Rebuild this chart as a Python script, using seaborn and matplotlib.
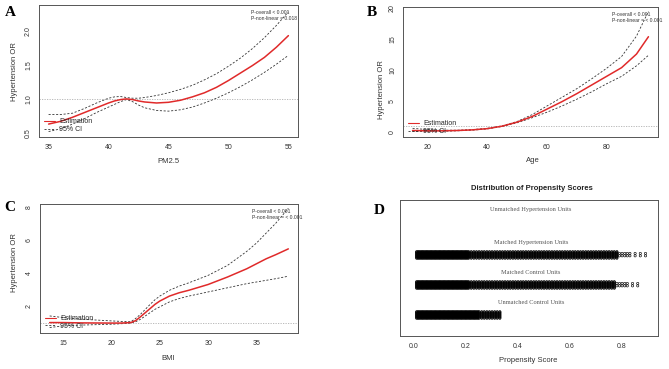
import numpy as np
import pandas as pd
import matplotlib
matplotlib.use("Agg")
import matplotlib.pyplot as plt
from matplotlib.lines import Line2D
import seaborn as sns

# ---------------- data ----------------
# Panel A: PM2.5
pm_x = [35, 36, 37, 38, 39, 40, 40.5, 41, 41.5, 42, 42.5, 43, 44, 45, 46, 47, 48, 49, 50, 51, 52, 53, 54, 55]
pm_est = [0.63, 0.67, 0.73, 0.80, 0.87, 0.94, 0.97, 0.99, 1.00, 0.99, 0.97, 0.955, 0.94, 0.95, 0.98, 1.03, 1.09, 1.17, 1.27, 1.38, 1.49, 1.61, 1.76, 1.93]
pm_upper = [0.77, 0.77, 0.79, 0.86, 0.94, 1.01, 1.03, 1.035, 1.02, 1.01, 1.01, 1.02, 1.05, 1.09, 1.14, 1.20, 1.28, 1.37, 1.48, 1.60, 1.74, 1.90, 2.08, 2.28]
pm_lower = [0.52, 0.56, 0.63, 0.71, 0.80, 0.88, 0.92, 0.96, 0.99, 0.96, 0.91, 0.87, 0.83, 0.82, 0.84, 0.88, 0.94, 1.01, 1.09, 1.18, 1.28, 1.39, 1.51, 1.64]

# Panel B: Age
age_x = [15, 20, 25, 30, 35, 40, 45, 50, 55, 60, 65, 70, 75, 80, 85, 90, 94]
age_est = [0.25, 0.2, 0.2, 0.25, 0.35, 0.55, 0.95, 1.6, 2.5, 3.7, 4.9, 6.2, 7.6, 9.0, 10.4, 12.6, 15.4]
age_upper = [0.6, 0.4, 0.3, 0.3, 0.4, 0.6, 1.0, 1.7, 2.8, 4.2, 5.6, 7.0, 8.6, 10.3, 12.2, 15.5, 19.5]
age_lower = [0.1, 0.1, 0.12, 0.2, 0.3, 0.5, 0.9, 1.5, 2.3, 3.2, 4.2, 5.3, 6.5, 7.8, 9.0, 10.7, 12.4]

# Panel C: BMI
bmi_x = [13.6, 15, 17, 20, 21, 22, 22.5, 23, 23.5, 24, 24.5, 25, 26, 27, 28, 30, 32, 34, 35, 36, 37, 38.3]
bmi_est = [1.0, 1.0, 0.98, 0.97, 0.97, 1.0, 1.12, 1.35, 1.6, 1.85, 2.1, 2.3, 2.6, 2.8, 2.95, 3.3, 3.75, 4.25, 4.55, 4.85, 5.1, 5.45]
bmi_upper = [1.4, 1.3, 1.2, 1.1, 1.07, 1.05, 1.25, 1.5, 1.8, 2.1, 2.38, 2.6, 2.95, 3.2, 3.4, 3.85, 4.45, 5.3, 5.8, 6.4, 7.0, 7.9]
bmi_lower = [0.7, 0.8, 0.85, 0.9, 0.93, 0.97, 1.05, 1.2, 1.4, 1.6, 1.8, 1.95, 2.25, 2.45, 2.6, 2.85, 3.1, 3.35, 3.45, 3.55, 3.65, 3.8]

# Panel D: propensity score bins (observed, rounded to 0.01)
ps_bins = [0.01, 0.02, 0.03, 0.04, 0.05, 0.06, 0.07, 0.08, 0.09, 0.10,
           0.11, 0.12, 0.13, 0.14, 0.15, 0.16, 0.17, 0.18, 0.19, 0.20,
           0.21, 0.22, 0.23, 0.24, 0.25, 0.26, 0.27, 0.28, 0.29, 0.30,
           0.31, 0.32, 0.33, 0.34, 0.35, 0.36, 0.37, 0.38, 0.39, 0.40,
           0.41, 0.42, 0.43, 0.44, 0.45, 0.46, 0.47, 0.48, 0.49, 0.50,
           0.51, 0.52, 0.53, 0.54, 0.55, 0.56, 0.57, 0.58, 0.59, 0.60,
           0.61, 0.62, 0.63, 0.64, 0.65, 0.66, 0.67, 0.68, 0.69, 0.70,
           0.71, 0.72, 0.73, 0.74, 0.75, 0.76, 0.77, 0.78, 0.79]
# low scores that fall between the bins (the solid-black left part)
ps_between = [0.015, 0.025, 0.035, 0.045, 0.055, 0.065, 0.075, 0.085, 0.095, 0.105,
              0.115, 0.125, 0.135, 0.145, 0.155, 0.165, 0.175, 0.185, 0.195, 0.205,
              0.215, 0.225, 0.235, 0.245]
matched_treated_dense = ps_bins[:78] + ps_between[:20]
matched_treated_tail = [0.79, 0.80, 0.81, 0.82, 0.83, 0.85, 0.87, 0.89]
matched_control_dense = ps_bins[:77] + ps_between[:20]
matched_control_tail = [0.78, 0.79, 0.80, 0.81, 0.82, 0.84, 0.86]
unmatched_control_dense = ps_bins[:33] + ps_between
group_labels = ["Unmatched Hypertension Units", "Matched Hypertension Units",
                "Matched Control Units", "Unmatched Control Units"]
group_pos = [4, 3, 2, 1]

# ---------------- figure ----------------
W, H = 669, 369
fig = plt.figure(figsize=(W / 100, H / 100), dpi=100)
sns.set_style("white")
plt.rcParams["font.family"] = ["Liberation Sans", "DejaVu Sans"]

def rect(l, r, t, b):
    return [l / W, 1 - b / H, (r - l) / W, (b - t) / H]

RED = "#e02a2a"
TXT = "#333333"

def style_ax(ax):
    for s in ax.spines.values():
        s.set_visible(True)
        s.set_color("#555555")
        s.set_linewidth(0.7)
    ax.tick_params(axis="both", which="both", direction="out", length=3,
                   width=0.6, color="#555555", labelsize=5, labelcolor=TXT, pad=2)
    for lab in ax.get_yticklabels():
        lab.set_rotation(90)
        lab.set_va("center")
    ax.set_xlabel("")
    ax.set_ylabel("")

def curve_panel(box, x, est, lo, hi, xlim, ylim, xticks, yticks, yticklabels, legend_anchor, ptxt):
    ax = fig.add_axes(rect(*box))
    df = pd.DataFrame({"x": x, "est": est, "lo": lo, "hi": hi})
    ax.axhline(1.0, color="#b0b0b0", lw=0.6, ls=(0, (1.5, 1.5)), zorder=1)
    sns.lineplot(data=df, x="x", y="hi", ax=ax, color="#333333", lw=0.6,
                 linestyle=(0, (2.5, 2)), estimator=None, sort=True)
    sns.lineplot(data=df, x="x", y="lo", ax=ax, color="#333333", lw=0.6,
                 linestyle=(0, (2.5, 2)), estimator=None, sort=True)
    sns.lineplot(data=df, x="x", y="est", ax=ax, color=RED, lw=1.1,
                 estimator=None, sort=True)
    ax.set_xlim(*xlim)
    ax.set_ylim(*ylim)
    ax.set_xticks(xticks)
    ax.set_yticks(yticks)
    ax.set_yticklabels(yticklabels)
    style_ax(ax)
    handles = [Line2D([], [], color=RED, lw=0.8),
               Line2D([], [], color="#333333", lw=0.6, ls=(0, (2.5, 2)))]
    ax.legend(handles, ["Estimation", "95% CI"], loc="lower left",
              bbox_to_anchor=legend_anchor, frameon=False, fontsize=5,
              handlelength=1.6, handletextpad=0.6, labelspacing=0.1,
              borderpad=0, borderaxespad=0)
    ax.text(0.82, 0.96, ptxt, transform=ax.transAxes, fontsize=3.6,
            color=TXT, va="top", ha="left", linespacing=1.2)
    return ax

def ftext(px, py, s, **kw):
    fig.text(px / W, 1 - py / H, s, **kw)

# Panel A
curve_panel((39, 298, 5, 137), pm_x, pm_est, pm_lower, pm_upper,
            (34.2, 55.8), (0.44, 2.38), [35, 40, 45, 50, 55],
            [0.5, 1.0, 1.5, 2.0], ["0.5", "1.0", "1.5", "2.0"], (0.02, 0.03),
            "P-overall < 0.001\nP-non-linear = 0.018")
ftext(15, 72, "Hypertension OR", rotation=90, fontsize=5.5, color=TXT, ha="center", va="center")
ftext(168, 162, "PM2.5", fontsize=5.5, color=TXT, ha="center", va="center")

# Panel B
curve_panel((403, 658, 7, 137), age_x, age_est, age_lower, age_upper,
            (11.8, 97.2), (-0.8, 20.2), [20, 40, 60, 80],
            [0, 5, 10, 15, 20], ["0", "5", "10", "15", "20"], (0.02, 0.015),
            "P-overall < 0.001\nP-non-linear = < 0.001")
ftext(382, 90, "Hypertension OR", rotation=90, fontsize=5.5, color=TXT, ha="center", va="center")
ftext(533, 160, "Age", fontsize=5.5, color=TXT, ha="center", va="center")

# Panel C
curve_panel((40, 298, 204, 333), bmi_x, bmi_est, bmi_lower, bmi_upper,
            (12.6, 39.3), (0.37, 8.16), [15, 20, 25, 30, 35],
            [2, 4, 6, 8], ["2", "4", "6", "8"], (0.02, 0.025),
            "P-overall < 0.001\nP-non-linear = < 0.001")
ftext(15, 263, "Hypertension OR", rotation=90, fontsize=5.5, color=TXT, ha="center", va="center")
ftext(168, 358, "BMI", fontsize=5.5, color=TXT, ha="center", va="center")

# Panel D
axd = fig.add_axes(rect(400, 658, 200, 336))
JIT = [-0.11, -0.085, -0.06, -0.035, -0.01, 0.015, 0.04, 0.065, 0.09, 0.11]
TAIL_JIT = [-0.03, 0.05]
rows = []
for scores, pos, jit in [(matched_treated_dense, 3, JIT), (matched_treated_tail, 3, TAIL_JIT),
                         (matched_control_dense, 2, JIT), (matched_control_tail, 2, TAIL_JIT),
                         (unmatched_control_dense, 1, JIT)]:
    for s in scores:
        for j in jit:
            rows.append((s, pos + j))
dd = pd.DataFrame(rows, columns=["score", "grp"])
sns.scatterplot(data=dd, x="score", y="grp", ax=axd, marker="o", s=2.6,
                facecolor="none", edgecolor="black", linewidth=0.45)
axd.set_xlim(-0.054, 0.938)
axd.set_ylim(0.3, 4.83)
axd.set_xticks([0.0, 0.2, 0.4, 0.6, 0.8])
axd.set_xticklabels(["0.0", "0.2", "0.4", "0.6", "0.8"])
axd.set_yticks([])
style_ax(axd)
for lab, pos, dy in zip(group_labels, group_pos, [0.5, 0.43, 0.43, 0.43]):
    axd.text(0.45, pos + dy, lab, fontsize=4.6, color="#555555", ha="center",
             va="center", family=["Liberation Serif", "DejaVu Serif"])
ftext(532, 189, "Distribution of Propensity Scores", fontsize=5.5, fontweight="bold",
      color="#222222", ha="center", va="center")
ftext(528, 360, "Propensity Score", fontsize=5.5, color=TXT, ha="center", va="center")

# Panel letters
for px, py, L in [(10, 13, "A"), (372, 12, "B"), (10, 208, "C"), (379, 211, "D")]:
    ftext(px, py, L, fontsize=11, fontweight="bold", ha="center", va="center",
          family=["Liberation Serif", "DejaVu Serif"], color="black")

fig.savefig("out.png", dpi=100)
